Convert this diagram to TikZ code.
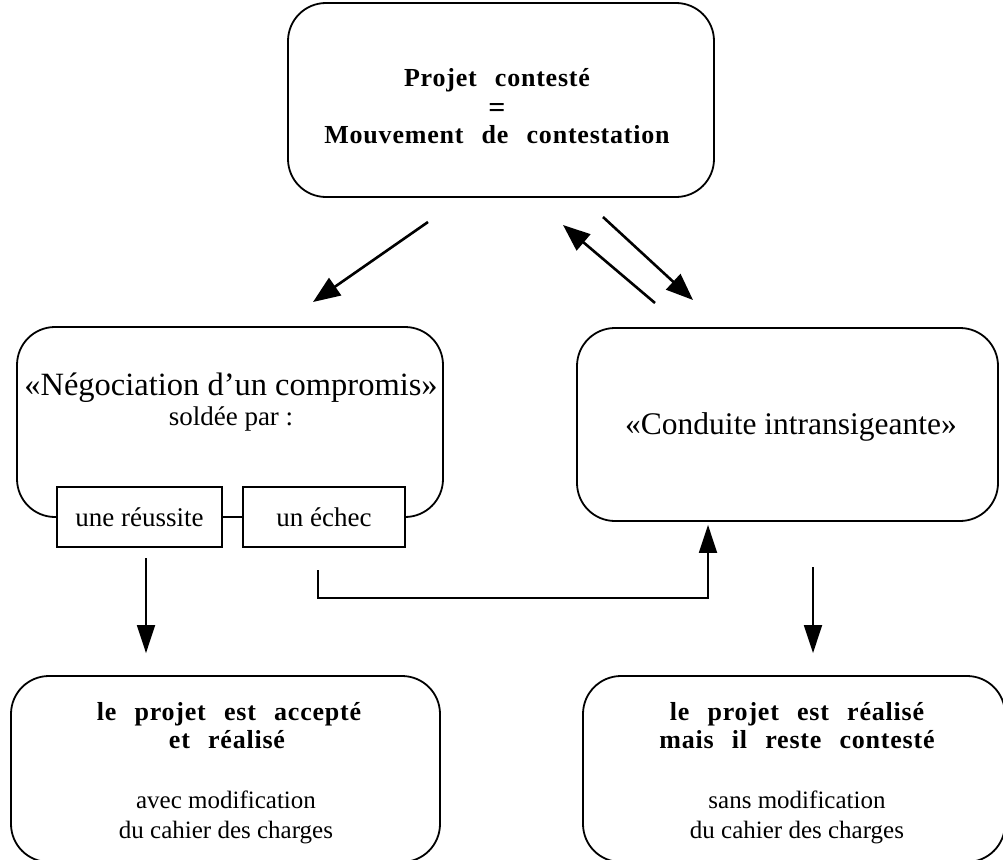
\documentclass[tikz,border=0pt]{standalone}
\usepackage{fontspec}
\setmainfont{Liberation Serif}
\newfontfamily\spacedbf[LetterSpace=3,WordSpace=2.5]{Liberation Serif}
\usetikzlibrary{arrows.meta}
\begin{document}
\begin{tikzpicture}[x=1pt,y=-1pt,
  bigbox/.style={draw,line width=1.8pt,rounded corners=38pt,inner sep=0pt},
  smallbox/.style={draw,line width=1.6pt,inner sep=0pt,minimum height=60pt,
     font=\fontsize{27}{30}\selectfont},
  boldtxt/.style={anchor=base,inner sep=0pt,font=\spacedbf\bfseries\fontsize{26}{30}\selectfont},
  bigtxt/.style={anchor=base,inner sep=0pt,font=\fontsize{31.5}{36}\selectfont},
  regtxt/.style={anchor=base,inner sep=0pt,font=\fontsize{25}{30}\selectfont},
  bigarrow/.style={line width=2.6pt,-{Triangle[length=27pt,width=21pt]}},
  thinarrow/.style={line width=1.8pt,-{Triangle[length=28pt,width=18pt]}},
  thinline/.style={line width=1.8pt}
]
\useasboundingbox (0,0) rectangle (1003,859);
\clip (0,0) rectangle (1003,859);

% top box
\node[bigbox,minimum width=426pt,minimum height=194pt] (top) at (501,100) {};
\node[boldtxt] (t1) at (497,86) {Projet contesté};
\node[anchor=base,inner sep=0pt,font=\bfseries\fontsize{30}{32}\selectfont] (t2) at (497,117) {=};
\node[boldtxt] (t3) at (497,143) {Mouvement de contestation};

% small boxes
\node[smallbox,minimum width=165pt] (reussite) at (139.5,517) {une réussite};
\node[smallbox,minimum width=162pt] (echec) at (324,517) {un échec};
\draw[thinline] (reussite.east) -- (echec.west);

% left middle box (open bottom, joined to the small boxes)
\coordinate (lbTL) at (17,327);
\coordinate (lbBR) at (443,517);
\draw[line width=1.8pt,rounded corners=38pt]
  (reussite.west) -| (lbTL) -| (lbBR) -- (echec.east);
\node[bigtxt,font=\fontsize{32.5}{36}\selectfont] (neg) at (231,395) {«Négociation d’un compromis»};
\node[regtxt,font=\fontsize{27}{30}\selectfont] (sold) at (231,425) {soldée par :};

% right middle box
\node[bigbox,minimum width=421pt,minimum height=193pt] (right) at (787.5,424.5) {};
\node[bigtxt] (cond) at (791,434) {«Conduite intransigeante»};

% bottom boxes
\node[bigbox,minimum width=429pt,minimum height=186pt] (bl) at (225.5,769) {};
\node[boldtxt] (bl1) at (229,720) {le projet est accepté};
\node[boldtxt] (bl2) at (227,748) {et réalisé};
\node[regtxt] (bl3) at (226,808) {avec modification};
\node[regtxt] (bl4) at (226,838) {du cahier des charges};

\node[bigbox,minimum width=422pt,minimum height=186pt] (br) at (794,769) {};
\node[boldtxt] (br1) at (797,720) {le projet est réalisé};
\node[boldtxt] (br2) at (797,748) {mais il reste contesté};
\node[regtxt] (br3) at (797,808) {sans modification};
\node[regtxt] (br4) at (797,838) {du cahier des charges};

% arrows between top and middle row
\coordinate (a1s) at (428,222);
\coordinate (a1e) at (313,302);
\draw[bigarrow] (a1s) -- (a1e);
\coordinate (a2s) at (655,303);
\coordinate (a2e) at (563,225);
\draw[bigarrow] (a2s) -- (a2e);
\coordinate (a3s) at (603,217);
\coordinate (a3e) at (693,300);
\draw[bigarrow] (a3s) -- (a3e);

% arrows to the bottom row
\coordinate (d1) at (146,558);
\draw[thinarrow,shorten >=22pt] (d1) -- (d1 |- bl.north);
\coordinate (d2) at (813,567);
\draw[thinarrow,shorten >=22pt] (d2) -- (d2 |- br.north);

% elbow from "un échec" to the intransigent conduct
\coordinate (e0) at (318,570);
\coordinate (e1) at (708,598);
\draw[thinarrow,shorten >=3pt] (e0) |- (e1) -- (e1 |- right.south);
\end{tikzpicture}
\end{document}
